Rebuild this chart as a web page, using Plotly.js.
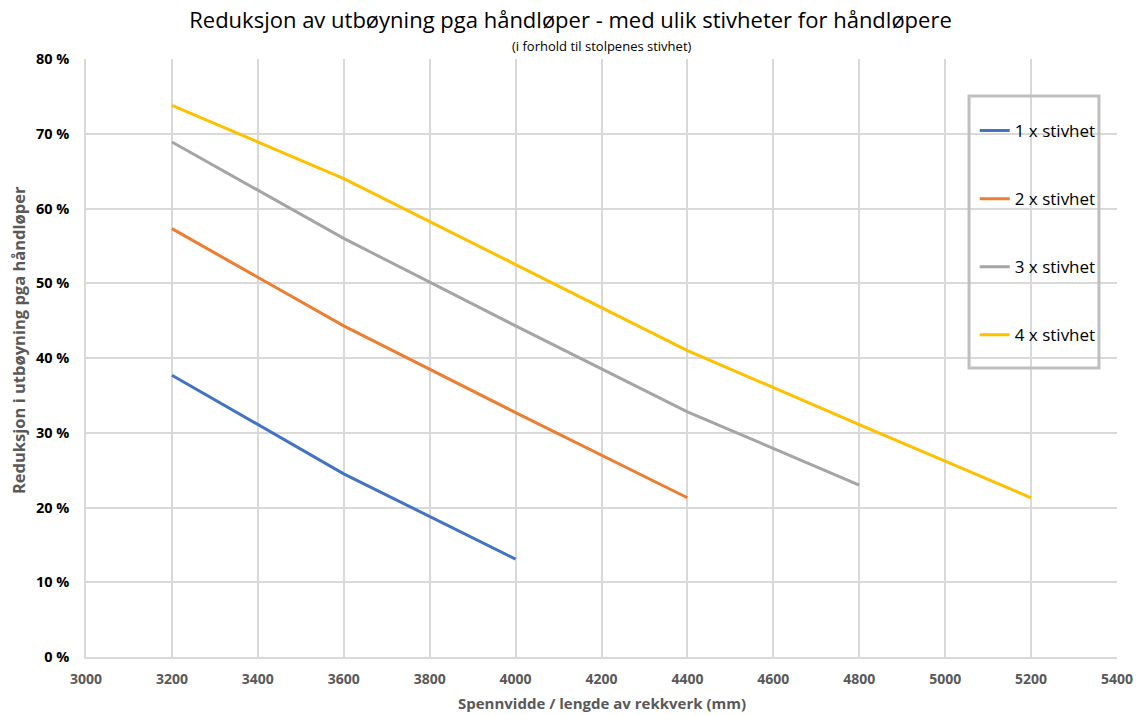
<!DOCTYPE html>
<html><head><meta charset="utf-8">
<script src="https://cdn.plot.ly/plotly-3.0.1.min.js"></script>
<style>body{margin:0;padding:0;background:#fff}#chart{width:1141px;height:715px}</style>
</head><body><div id="chart"></div>
<script>
const spans = [3200, 3600, 4000, 4400, 4800, 5200];
const series1 = [37.7, 24.5, 13.1];
const series2 = [57.3, 44.3, 32.7, 21.3];
const series3 = [68.9, 56.0, 44.3, 32.8, 23.0];
const series4 = [73.8, 64.0, 52.5, 41.0, 31.1, 21.3];
const names = ["1 x stivhet", "2 x stivhet", "3 x stivhet", "4 x stivhet"];
const colors = ["#4472c4", "#ed7d31", "#a5a5a5", "#ffc000"];
const yTicks = [0, 10, 20, 30, 40, 50, 60, 70, 80];
const xTicks = [3000, 3200, 3400, 3600, 3800, 4000, 4200, 4400, 4600, 4800, 5000, 5200, 5400];

const allSeries = [series1, series2, series3, series4];
const traces = allSeries.map((s, i) => ({
  x: spans.slice(0, s.length), y: s, name: names[i], mode: "lines", type: "scatter",
  line: {color: colors[i], width: 3}, legendgroup: "g" + i
}));

const F = "'Open Sans', sans-serif";
const layout = {
  width: 1141, height: 715,
  margin: {l: 86, r: 24, t: 59, b: 58},
  paper_bgcolor: "#fff", plot_bgcolor: "#fff",
  title: {text: "Reduksjon av utbøyning pga håndløper - med ulik stivheter for håndløpere",
    font: {family: F, size: 22, color: "#000"}, x: 0.5, xanchor: "center", y: 0.972, yanchor: "middle"},
  annotations: [
    {text: "(i forhold til stolpenes stivhet)", xref: "paper", yref: "paper", x: 0.5, y: 1.022,
      xanchor: "center", yanchor: "middle", showarrow: false, font: {family: F, size: 13, color: "#000"}},
    {text: "<b>Reduksjon i utbøyning pga håndløper</b>", xref: "paper", yref: "paper", x: 0, xshift: -68, y: 0.530,
      xanchor: "center", yanchor: "middle", textangle: -90, showarrow: false, font: {family: F, size: 16.5, color: "#595959"}},
    {text: "<b>Spennvidde / lengde av rekkverk (mm)</b>", xref: "paper", yref: "paper", x: 0.5, y: -0.077,
      xanchor: "center", yanchor: "middle", showarrow: false, font: {family: F, size: 15, color: "#595959"}}
  ],
  shapes: [{type: "rect", xref: "paper", yref: "paper", x0: 0.8565, x1: 0.9825, y0: 0.4833, y1: 0.938,
    line: {color: "#bfbfbf", width: 3}, fillcolor: "rgba(255,255,255,0)", layer: "above"}],
  xaxis: {range: [3000, 5400], tickvals: xTicks, ticktext: xTicks.map(String),
    showgrid: true, gridcolor: "#d9d9d9", gridwidth: 1.5, zeroline: false,
    showline: true, linecolor: "#d9d9d9", linewidth: 1.5, ticks: "", ticklabelstandoff: 8,
    tickfont: {family: F, size: 14, color: "#595959", weight: "bold"}},
  yaxis: {range: [0, 80], tickvals: yTicks, ticktext: yTicks.map(v => v + " %"),
    showgrid: true, gridcolor: "#d9d9d9", gridwidth: 1.5, zeroline: false,
    showline: true, linecolor: "#d9d9d9", linewidth: 1.5, ticks: "", ticklabelstandoff: 12,
    tickfont: {family: F, size: 14.5, color: "#000", weight: "bold"}},
  legend: {x: 0.862, y: 0.9097, xanchor: "left", yanchor: "top", bgcolor: "rgba(255,255,255,0)",
    borderwidth: 0, traceorder: "grouped", tracegroupgap: 43,
    font: {family: F, size: 17, color: "#000"}, itemwidth: 30},
  showlegend: true
};
Plotly.newPlot("chart", traces, layout, {displayModeBar: false});
</script></body></html>
